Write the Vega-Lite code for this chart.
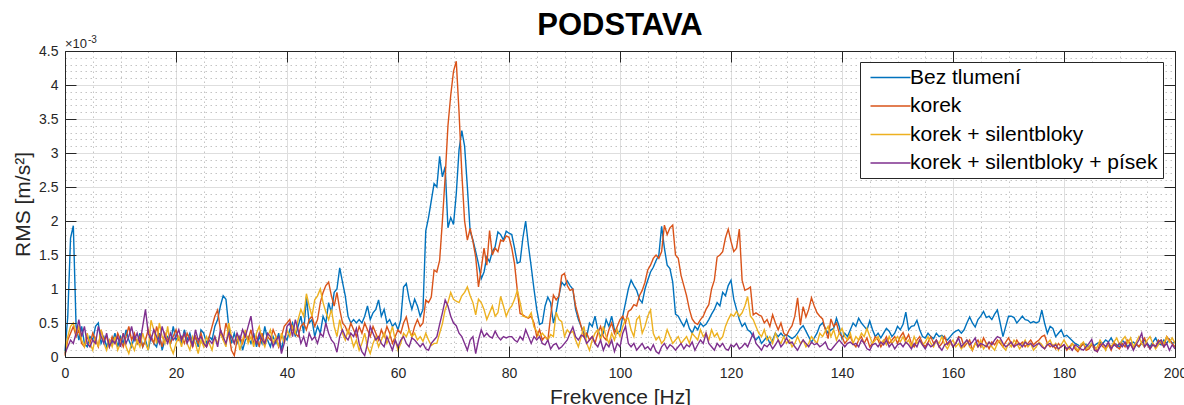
{
  "$schema": "https://vega.github.io/schema/vega-lite/v6.json",
  "width": 1110,
  "height": 306,
  "autosize": "none",
  "padding": {"left": 65, "top": 51, "right": 9, "bottom": 48},
  "background": "white",
  "title": {"text": "PODSTAVA", "fontSize": 31, "fontWeight": "bold", "color": "black", "anchor": "middle", "offset": -7},
  "config": {"view": {"stroke": null}, "font": "Liberation Sans"},
  "data": {"values": [
    {"f":0,"b":0.08,"k":0.02,"s":0.05,"p":0.05},
    {"f":0.5,"b":0.6,"k":0.25,"s":0.3,"p":0.15},
    {"f":1,"b":1.75,"k":0.35,"s":0.45,"p":0.25},
    {"f":1.5,"b":1.93,"k":0.45,"s":0.5,"p":0.2},
    {"f":2,"b":0.45,"k":0.3,"s":0.35,"p":0.35},
    {"f":2.5,"b":0.25,"k":0.4,"s":0.45,"p":0.55},
    {"f":3,"b":0.45,"k":0.2,"s":0.25,"p":0.3},
    {"f":3.5,"b":0.2,"k":0.15,"s":0.15,"p":0.45},
    {"f":4,"b":0.15,"k":0.3,"s":0.35,"p":0.2},
    {"f":4.5,"b":0.3,"k":0.2,"s":0.2,"p":0.15},
    {"f":5,"b":0.25,"k":0.35,"s":0.1,"p":0.25},
    {"f":5.5,"b":0.45,"k":0.25,"s":0.3,"p":0.2},
    {"f":6,"b":0.5,"k":0.15,"s":0.15,"p":0.45},
    {"f":6.5,"b":0.2,"k":0.4,"s":0.4,"p":0.3},
    {"f":7,"b":0.3,"k":0.25,"s":0.2,"p":0.2},
    {"f":7.5,"b":0.15,"k":0.3,"s":0.1,"p":0.35},
    {"f":8,"b":0.25,"k":0.15,"s":0.25,"p":0.15},
    {"f":8.5,"b":0.2,"k":0.3,"s":0.15,"p":0.25},
    {"f":9,"b":0.35,"k":0.2,"s":0.3,"p":0.2},
    {"f":9.5,"b":0.15,"k":0.35,"s":0.1,"p":0.3},
    {"f":10,"b":0.3,"k":0.25,"s":0.2,"p":0.15},
    {"f":10.5,"b":0.2,"k":0.15,"s":0.35,"p":0.35},
    {"f":11,"b":0.4,"k":0.3,"s":0.15,"p":0.2},
    {"f":11.5,"b":0.25,"k":0.45,"s":0.05,"p":0.3},
    {"f":12,"b":0.15,"k":0.25,"s":0.2,"p":0.45},
    {"f":12.5,"b":0.3,"k":0.35,"s":0.1,"p":0.25},
    {"f":13,"b":0.2,"k":0.2,"s":0.25,"p":0.35},
    {"f":13.5,"b":0.35,"k":0.3,"s":0.15,"p":0.2},
    {"f":14,"b":0.15,"k":0.15,"s":0.35,"p":0.45},
    {"f":14.5,"b":0.25,"k":0.25,"s":0.2,"p":0.7},
    {"f":15,"b":0.1,"k":0.4,"s":0.1,"p":0.35},
    {"f":15.5,"b":0.3,"k":0.3,"s":0.54,"p":0.25},
    {"f":16,"b":0.2,"k":0.2,"s":0.4,"p":0.4},
    {"f":16.5,"b":0.15,"k":0.45,"s":0.2,"p":0.3},
    {"f":17,"b":0.35,"k":0.3,"s":0.5,"p":0.2},
    {"f":17.5,"b":0.1,"k":0.15,"s":0.3,"p":0.45},
    {"f":18,"b":0.25,"k":0.35,"s":0.2,"p":0.3},
    {"f":18.5,"b":0.3,"k":0.25,"s":0.45,"p":0.2},
    {"f":19,"b":0.2,"k":0.2,"s":0.15,"p":0.35},
    {"f":19.5,"b":0.45,"k":0.3,"s":0.05,"p":0.25},
    {"f":20,"b":0.25,"k":0.4,"s":0.2,"p":0.3},
    {"f":20.5,"b":0.3,"k":0.25,"s":0.3,"p":0.4},
    {"f":21,"b":0.2,"k":0.3,"s":0.15,"p":0.25},
    {"f":21.5,"b":0.4,"k":0.2,"s":0.35,"p":0.35},
    {"f":22,"b":0.25,"k":0.35,"s":0.2,"p":0.2},
    {"f":22.5,"b":0.35,"k":0.25,"s":0.1,"p":0.3},
    {"f":23,"b":0.2,"k":0.15,"s":0.3,"p":0.15},
    {"f":23.5,"b":0.3,"k":0.3,"s":0.2,"p":0.4},
    {"f":24,"b":0.15,"k":0.2,"s":0.05,"p":0.25},
    {"f":24.5,"b":0.4,"k":0.35,"s":0.25,"p":0.3},
    {"f":25,"b":0.35,"k":0.2,"s":0.15,"p":0.2},
    {"f":25.5,"b":0.2,"k":0.15,"s":0.3,"p":0.15},
    {"f":26,"b":0.3,"k":0.3,"s":0.2,"p":0.25},
    {"f":26.5,"b":0.25,"k":0.45,"s":0.1,"p":0.2},
    {"f":27,"b":0.45,"k":0.6,"s":0.3,"p":0.3},
    {"f":27.5,"b":0.55,"k":0.69,"s":0.2,"p":0.15},
    {"f":28,"b":0.75,"k":0.4,"s":0.35,"p":0.4},
    {"f":28.5,"b":0.9,"k":0.25,"s":0.25,"p":0.3},
    {"f":29,"b":0.85,"k":0.5,"s":0.15,"p":0.2},
    {"f":29.5,"b":0.45,"k":0.35,"s":0.5,"p":0.35},
    {"f":30,"b":0.2,"k":0.1,"s":0.3,"p":0.3},
    {"f":30.5,"b":0.35,"k":0.02,"s":0.2,"p":0.2},
    {"f":31,"b":0.2,"k":0.25,"s":0.35,"p":0.35},
    {"f":31.5,"b":0.3,"k":0.3,"s":0.1,"p":0.25},
    {"f":32,"b":0.1,"k":0.2,"s":0.25,"p":0.4},
    {"f":32.5,"b":0.25,"k":0.35,"s":0.4,"p":0.3},
    {"f":33,"b":0.3,"k":0.25,"s":0.2,"p":0.45},
    {"f":33.5,"b":0.2,"k":0.4,"s":0.3,"p":0.6},
    {"f":34,"b":0.35,"k":0.2,"s":0.15,"p":0.3},
    {"f":34.5,"b":0.15,"k":0.3,"s":0.35,"p":0.2},
    {"f":35,"b":0.3,"k":0.15,"s":0.45,"p":0.35},
    {"f":35.5,"b":0.2,"k":0.35,"s":0.25,"p":0.25},
    {"f":36,"b":0.45,"k":0.2,"s":0.15,"p":0.2},
    {"f":36.5,"b":0.25,"k":0.3,"s":0.3,"p":0.35},
    {"f":37,"b":0.15,"k":0.25,"s":0.4,"p":0.3},
    {"f":37.5,"b":0.3,"k":0.4,"s":0.2,"p":0.15},
    {"f":38,"b":0.2,"k":0.3,"s":0.3,"p":0.25},
    {"f":38.5,"b":0.35,"k":0.15,"s":0.15,"p":0.3},
    {"f":39,"b":0.1,"k":0.3,"s":0.35,"p":0.05},
    {"f":39.5,"b":0.3,"k":0.45,"s":0.2,"p":0.2},
    {"f":40,"b":0.25,"k":0.5,"s":0.4,"p":0.45},
    {"f":40.5,"b":0.4,"k":0.55,"s":0.3,"p":0.5},
    {"f":41,"b":0.5,"k":0.4,"s":0.45,"p":0.3},
    {"f":41.5,"b":0.3,"k":0.35,"s":0.35,"p":0.55},
    {"f":42,"b":0.45,"k":0.3,"s":0.55,"p":0.4},
    {"f":42.5,"b":0.6,"k":0.45,"s":0.7,"p":0.2},
    {"f":43,"b":0.35,"k":0.5,"s":0.6,"p":0.3},
    {"f":43.5,"b":0.88,"k":0.4,"s":0.93,"p":0.15},
    {"f":44,"b":0.5,"k":0.55,"s":0.75,"p":0.35},
    {"f":44.5,"b":0.55,"k":0.6,"s":0.6,"p":0.25},
    {"f":45,"b":0.3,"k":0.45,"s":0.84,"p":0.3},
    {"f":45.5,"b":0.45,"k":0.55,"s":0.9,"p":0.2},
    {"f":46,"b":0.35,"k":0.8,"s":1.0,"p":0.35},
    {"f":46.5,"b":0.6,"k":0.95,"s":0.8,"p":0.3},
    {"f":47,"b":0.5,"k":1.05,"s":0.66,"p":0.5},
    {"f":47.5,"b":0.8,"k":1.1,"s":0.55,"p":0.35},
    {"f":48,"b":0.65,"k":0.9,"s":0.7,"p":0.25},
    {"f":48.5,"b":0.95,"k":0.75,"s":0.45,"p":0.2},
    {"f":49,"b":1.0,"k":0.95,"s":0.3,"p":0.07},
    {"f":49.5,"b":1.31,"k":0.7,"s":0.55,"p":0.3},
    {"f":50,"b":1.1,"k":0.5,"s":0.35,"p":0.4},
    {"f":50.5,"b":0.9,"k":0.45,"s":0.25,"p":0.3},
    {"f":51,"b":0.6,"k":0.35,"s":0.4,"p":0.25},
    {"f":51.5,"b":0.5,"k":0.5,"s":0.3,"p":0.35},
    {"f":52,"b":0.55,"k":0.4,"s":0.15,"p":0.3},
    {"f":52.5,"b":0.5,"k":0.3,"s":0.25,"p":0.42},
    {"f":53,"b":0.55,"k":0.45,"s":0.1,"p":0.2},
    {"f":53.5,"b":0.5,"k":0.35,"s":0.2,"p":0.08},
    {"f":54,"b":0.6,"k":0.5,"s":0.35,"p":0.02},
    {"f":54.5,"b":0.75,"k":0.4,"s":0.15,"p":0.2},
    {"f":55,"b":0.55,"k":0.3,"s":0.05,"p":0.45},
    {"f":55.5,"b":0.65,"k":0.45,"s":0.2,"p":0.35},
    {"f":56,"b":0.7,"k":0.35,"s":0.3,"p":0.25},
    {"f":56.5,"b":0.84,"k":0.25,"s":0.15,"p":0.3},
    {"f":57,"b":0.6,"k":0.4,"s":0.25,"p":0.2},
    {"f":57.5,"b":0.7,"k":0.3,"s":0.35,"p":0.15},
    {"f":58,"b":0.5,"k":0.45,"s":0.2,"p":0.3},
    {"f":58.5,"b":0.55,"k":0.35,"s":0.3,"p":0.2},
    {"f":59,"b":0.45,"k":0.2,"s":0.45,"p":0.1},
    {"f":59.5,"b":0.5,"k":0.3,"s":0.25,"p":0.25},
    {"f":60,"b":0.4,"k":0.4,"s":0.1,"p":0.15},
    {"f":60.5,"b":0.55,"k":0.35,"s":0.2,"p":0.25},
    {"f":61,"b":1.03,"k":0.5,"s":0.35,"p":0.3},
    {"f":61.5,"b":1.08,"k":0.59,"s":0.3,"p":0.2},
    {"f":62,"b":0.85,"k":0.4,"s":0.4,"p":0.15},
    {"f":62.5,"b":0.7,"k":0.3,"s":0.3,"p":0.28},
    {"f":63,"b":0.85,"k":0.45,"s":0.35,"p":0.25},
    {"f":63.5,"b":0.75,"k":0.55,"s":0.25,"p":0.2},
    {"f":64,"b":0.6,"k":0.45,"s":0.3,"p":0.15},
    {"f":64.5,"b":0.7,"k":0.5,"s":0.23,"p":0.2},
    {"f":65,"b":1.85,"k":0.84,"s":0.35,"p":0.12},
    {"f":65.5,"b":2.05,"k":0.8,"s":0.25,"p":0.1},
    {"f":66,"b":2.3,"k":0.88,"s":0.17,"p":0.2},
    {"f":66.5,"b":2.55,"k":1.28,"s":0.2,"p":0.25},
    {"f":67,"b":2.5,"k":1.25,"s":0.2,"p":0.3},
    {"f":67.5,"b":2.95,"k":1.42,"s":0.35,"p":0.48},
    {"f":68,"b":2.65,"k":2.0,"s":0.49,"p":0.65},
    {"f":68.5,"b":2.8,"k":2.65,"s":0.7,"p":0.84},
    {"f":69,"b":1.9,"k":3.4,"s":0.8,"p":0.75},
    {"f":69.5,"b":2.05,"k":3.85,"s":0.95,"p":0.6},
    {"f":70,"b":1.95,"k":4.2,"s":0.85,"p":0.5},
    {"f":70.5,"b":2.4,"k":4.35,"s":0.82,"p":0.46},
    {"f":71,"b":3.05,"k":3.6,"s":0.8,"p":0.35},
    {"f":71.5,"b":3.33,"k":2.7,"s":0.9,"p":0.3},
    {"f":72,"b":3.1,"k":2.0,"s":0.95,"p":0.2},
    {"f":72.5,"b":2.5,"k":1.72,"s":1.03,"p":0.1},
    {"f":73,"b":1.85,"k":1.89,"s":0.9,"p":0.25},
    {"f":73.5,"b":1.72,"k":1.7,"s":0.8,"p":0.3},
    {"f":74,"b":1.55,"k":1.47,"s":0.62,"p":0.05},
    {"f":74.5,"b":1.37,"k":1.03,"s":0.85,"p":0.25},
    {"f":75,"b":1.15,"k":1.3,"s":0.8,"p":0.4},
    {"f":75.5,"b":1.25,"k":1.6,"s":0.7,"p":0.3},
    {"f":76,"b":1.47,"k":1.35,"s":0.55,"p":0.35},
    {"f":76.5,"b":1.4,"k":1.86,"s":0.65,"p":0.3},
    {"f":77,"b":1.55,"k":1.5,"s":0.75,"p":0.28},
    {"f":77.5,"b":1.62,"k":1.6,"s":0.6,"p":0.38},
    {"f":78,"b":1.84,"k":1.55,"s":0.65,"p":0.3},
    {"f":78.5,"b":1.8,"k":1.72,"s":0.89,"p":0.25},
    {"f":79,"b":1.72,"k":1.7,"s":0.75,"p":0.3},
    {"f":79.5,"b":1.85,"k":1.78,"s":0.6,"p":0.28},
    {"f":80,"b":1.82,"k":1.76,"s":0.7,"p":0.3},
    {"f":80.5,"b":1.8,"k":1.6,"s":0.75,"p":0.3},
    {"f":81,"b":1.6,"k":1.37,"s":0.85,"p":0.25},
    {"f":81.5,"b":1.38,"k":0.98,"s":0.98,"p":0.22},
    {"f":82,"b":1.4,"k":0.64,"s":0.8,"p":0.3},
    {"f":82.5,"b":1.75,"k":0.62,"s":0.6,"p":0.25},
    {"f":83,"b":2.0,"k":0.59,"s":0.59,"p":0.4},
    {"f":83.5,"b":1.64,"k":0.57,"s":0.58,"p":0.3},
    {"f":84,"b":1.33,"k":0.6,"s":0.65,"p":0.2},
    {"f":84.5,"b":1.0,"k":0.5,"s":0.44,"p":0.3},
    {"f":85,"b":0.7,"k":0.3,"s":0.38,"p":0.25},
    {"f":85.5,"b":0.48,"k":0.4,"s":0.3,"p":0.3},
    {"f":86,"b":0.5,"k":0.25,"s":0.35,"p":0.2},
    {"f":86.5,"b":0.75,"k":0.3,"s":0.3,"p":0.18},
    {"f":87,"b":0.88,"k":0.25,"s":0.25,"p":0.25},
    {"f":87.5,"b":0.8,"k":0.6,"s":0.33,"p":0.12},
    {"f":88,"b":0.5,"k":0.91,"s":0.3,"p":0.18},
    {"f":88.5,"b":0.66,"k":0.84,"s":0.66,"p":0.2},
    {"f":89,"b":0.9,"k":0.9,"s":0.55,"p":0.12},
    {"f":89.5,"b":1.1,"k":1.2,"s":0.52,"p":0.15},
    {"f":90,"b":1.05,"k":1.23,"s":0.3,"p":0.2},
    {"f":90.5,"b":1.12,"k":1.05,"s":0.4,"p":0.25},
    {"f":91,"b":1.05,"k":0.98,"s":0.35,"p":0.35},
    {"f":91.5,"b":1.0,"k":1.0,"s":0.38,"p":0.44},
    {"f":92,"b":0.7,"k":0.75,"s":0.25,"p":0.3},
    {"f":92.5,"b":0.55,"k":0.6,"s":0.15,"p":0.25},
    {"f":93,"b":0.45,"k":0.45,"s":0.3,"p":0.32},
    {"f":93.5,"b":0.35,"k":0.3,"s":0.45,"p":0.3},
    {"f":94,"b":0.3,"k":0.35,"s":0.2,"p":0.2},
    {"f":94.5,"b":0.5,"k":0.25,"s":0.1,"p":0.25},
    {"f":95,"b":0.45,"k":0.3,"s":0.25,"p":0.3},
    {"f":95.5,"b":0.6,"k":0.2,"s":0.35,"p":0.2},
    {"f":96,"b":0.4,"k":0.35,"s":0.4,"p":0.15},
    {"f":96.5,"b":0.3,"k":0.45,"s":0.25,"p":0.25},
    {"f":97,"b":0.35,"k":0.3,"s":0.45,"p":0.1},
    {"f":97.5,"b":0.55,"k":0.25,"s":0.3,"p":0.2},
    {"f":98,"b":0.45,"k":0.4,"s":0.2,"p":0.15},
    {"f":98.5,"b":0.6,"k":0.5,"s":0.35,"p":0.25},
    {"f":99,"b":0.4,"k":0.35,"s":0.25,"p":0.08},
    {"f":99.5,"b":0.35,"k":0.45,"s":0.4,"p":0.2},
    {"f":100,"b":0.38,"k":0.55,"s":0.3,"p":0.15},
    {"f":100.5,"b":0.6,"k":0.6,"s":0.45,"p":0.35},
    {"f":101,"b":0.8,"k":0.5,"s":0.55,"p":0.45},
    {"f":101.5,"b":1.0,"k":0.67,"s":0.57,"p":0.2},
    {"f":102,"b":1.13,"k":0.7,"s":0.4,"p":0.15},
    {"f":102.5,"b":1.05,"k":0.77,"s":0.3,"p":0.2},
    {"f":103,"b":0.98,"k":0.75,"s":0.55,"p":0.1},
    {"f":103.5,"b":0.85,"k":0.9,"s":0.6,"p":0.15},
    {"f":104,"b":0.8,"k":0.98,"s":0.35,"p":0.2},
    {"f":104.5,"b":1.0,"k":1.1,"s":0.45,"p":0.12},
    {"f":105,"b":1.13,"k":1.28,"s":0.6,"p":0.15},
    {"f":105.5,"b":1.25,"k":1.35,"s":0.69,"p":0.1},
    {"f":106,"b":1.32,"k":1.45,"s":0.35,"p":0.18},
    {"f":106.5,"b":1.42,"k":1.5,"s":0.25,"p":0.08},
    {"f":107,"b":1.5,"k":1.45,"s":0.3,"p":0.05},
    {"f":107.5,"b":1.92,"k":1.55,"s":0.2,"p":0.15},
    {"f":108,"b":1.6,"k":1.94,"s":0.25,"p":0.2},
    {"f":108.5,"b":1.35,"k":1.8,"s":0.4,"p":0.12},
    {"f":109,"b":1.3,"k":1.9,"s":0.3,"p":0.18},
    {"f":109.5,"b":1.1,"k":1.94,"s":0.2,"p":0.15},
    {"f":110,"b":0.63,"k":1.5,"s":0.25,"p":0.1},
    {"f":110.5,"b":0.6,"k":1.45,"s":0.3,"p":0.15},
    {"f":111,"b":0.52,"k":1.2,"s":0.2,"p":0.2},
    {"f":111.5,"b":0.45,"k":1.05,"s":0.25,"p":0.12},
    {"f":112,"b":0.55,"k":0.9,"s":0.3,"p":0.18},
    {"f":112.5,"b":0.42,"k":0.7,"s":0.2,"p":0.15},
    {"f":113,"b":0.35,"k":0.56,"s":0.35,"p":0.22},
    {"f":113.5,"b":0.45,"k":0.5,"s":0.3,"p":0.1},
    {"f":114,"b":0.4,"k":0.48,"s":0.25,"p":0.18},
    {"f":114.5,"b":0.5,"k":0.55,"s":0.4,"p":0.25},
    {"f":115,"b":0.45,"k":0.6,"s":0.3,"p":0.2},
    {"f":115.5,"b":0.48,"k":0.7,"s":0.35,"p":0.35},
    {"f":116,"b":0.55,"k":0.77,"s":0.25,"p":0.2},
    {"f":116.5,"b":0.63,"k":1.0,"s":0.4,"p":0.15},
    {"f":117,"b":0.7,"k":1.13,"s":0.3,"p":0.1},
    {"f":117.5,"b":0.8,"k":1.47,"s":0.35,"p":0.2},
    {"f":118,"b":0.75,"k":1.5,"s":0.25,"p":0.15},
    {"f":118.5,"b":0.95,"k":1.55,"s":0.3,"p":0.2},
    {"f":119,"b":0.9,"k":1.75,"s":0.45,"p":0.12},
    {"f":119.5,"b":1.05,"k":1.88,"s":0.55,"p":0.1},
    {"f":120,"b":1.13,"k":1.7,"s":0.63,"p":0.18},
    {"f":120.5,"b":0.85,"k":1.55,"s":0.6,"p":0.15},
    {"f":121,"b":0.7,"k":1.6,"s":0.67,"p":0.2},
    {"f":121.5,"b":0.55,"k":1.88,"s":0.6,"p":0.12},
    {"f":122,"b":0.45,"k":1.13,"s":0.65,"p":0.15},
    {"f":122.5,"b":0.5,"k":0.98,"s":0.75,"p":0.2},
    {"f":123,"b":0.4,"k":1.0,"s":0.89,"p":0.15},
    {"f":123.5,"b":0.37,"k":1.03,"s":0.6,"p":0.25},
    {"f":124,"b":0.3,"k":0.62,"s":0.55,"p":0.35},
    {"f":124.5,"b":0.25,"k":0.65,"s":0.45,"p":0.2},
    {"f":125,"b":0.3,"k":0.62,"s":0.35,"p":0.15},
    {"f":125.5,"b":0.2,"k":0.6,"s":0.3,"p":0.1},
    {"f":126,"b":0.25,"k":0.5,"s":0.4,"p":0.18},
    {"f":126.5,"b":0.3,"k":0.55,"s":0.25,"p":0.15},
    {"f":127,"b":0.2,"k":0.45,"s":0.3,"p":0.2},
    {"f":127.5,"b":0.25,"k":0.62,"s":0.2,"p":0.12},
    {"f":128,"b":0.35,"k":0.5,"s":0.35,"p":0.18},
    {"f":128.5,"b":0.3,"k":0.4,"s":0.25,"p":0.25},
    {"f":129,"b":0.35,"k":0.5,"s":0.2,"p":0.15},
    {"f":129.5,"b":0.3,"k":0.35,"s":0.3,"p":0.2},
    {"f":130,"b":0.33,"k":0.31,"s":0.2,"p":0.28},
    {"f":130.5,"b":0.3,"k":0.4,"s":0.25,"p":0.2},
    {"f":131,"b":0.27,"k":0.46,"s":0.15,"p":0.22},
    {"f":131.5,"b":0.3,"k":0.6,"s":0.2,"p":0.15},
    {"f":132,"b":0.35,"k":0.87,"s":0.3,"p":0.1},
    {"f":132.5,"b":0.42,"k":0.47,"s":0.2,"p":0.18},
    {"f":133,"b":0.46,"k":0.74,"s":0.25,"p":0.25},
    {"f":133.5,"b":0.38,"k":0.59,"s":0.15,"p":0.2},
    {"f":134,"b":0.3,"k":0.7,"s":0.2,"p":0.15},
    {"f":134.5,"b":0.22,"k":0.87,"s":0.3,"p":0.22},
    {"f":135,"b":0.28,"k":0.75,"s":0.25,"p":0.18},
    {"f":135.5,"b":0.35,"k":0.65,"s":0.2,"p":0.2},
    {"f":136,"b":0.46,"k":0.6,"s":0.35,"p":0.15},
    {"f":136.5,"b":0.5,"k":0.56,"s":0.3,"p":0.18},
    {"f":137,"b":0.42,"k":0.4,"s":0.38,"p":0.22},
    {"f":137.5,"b":0.35,"k":0.27,"s":0.45,"p":0.12},
    {"f":138,"b":0.4,"k":0.56,"s":0.3,"p":0.1},
    {"f":138.5,"b":0.42,"k":0.45,"s":0.4,"p":0.15},
    {"f":139,"b":0.57,"k":0.5,"s":0.25,"p":0.2},
    {"f":139.5,"b":0.45,"k":0.35,"s":0.35,"p":0.25},
    {"f":140,"b":0.27,"k":0.3,"s":0.42,"p":0.2},
    {"f":140.5,"b":0.35,"k":0.2,"s":0.3,"p":0.15},
    {"f":141,"b":0.3,"k":0.25,"s":0.25,"p":0.2},
    {"f":141.5,"b":0.4,"k":0.3,"s":0.35,"p":0.22},
    {"f":142,"b":0.5,"k":0.2,"s":0.2,"p":0.18},
    {"f":142.5,"b":0.45,"k":0.15,"s":0.3,"p":0.2},
    {"f":143,"b":0.57,"k":0.25,"s":0.25,"p":0.15},
    {"f":143.5,"b":0.5,"k":0.3,"s":0.35,"p":0.25},
    {"f":144,"b":0.45,"k":0.2,"s":0.3,"p":0.2},
    {"f":144.5,"b":0.4,"k":0.28,"s":0.42,"p":0.12},
    {"f":145,"b":0.53,"k":0.15,"s":0.3,"p":0.1},
    {"f":145.5,"b":0.4,"k":0.2,"s":0.2,"p":0.18},
    {"f":146,"b":0.3,"k":0.3,"s":0.25,"p":0.2},
    {"f":146.5,"b":0.35,"k":0.25,"s":0.3,"p":0.15},
    {"f":147,"b":0.28,"k":0.15,"s":0.2,"p":0.22},
    {"f":147.5,"b":0.35,"k":0.22,"s":0.25,"p":0.18},
    {"f":148,"b":0.42,"k":0.3,"s":0.18,"p":0.25},
    {"f":148.5,"b":0.38,"k":0.2,"s":0.3,"p":0.15},
    {"f":149,"b":0.3,"k":0.25,"s":0.2,"p":0.2},
    {"f":149.5,"b":0.35,"k":0.3,"s":0.25,"p":0.12},
    {"f":150,"b":0.45,"k":0.2,"s":0.3,"p":0.18},
    {"f":150.5,"b":0.4,"k":0.3,"s":0.22,"p":0.2},
    {"f":151,"b":0.48,"k":0.36,"s":0.3,"p":0.15},
    {"f":151.5,"b":0.66,"k":0.25,"s":0.2,"p":0.22},
    {"f":152,"b":0.4,"k":0.33,"s":0.25,"p":0.18},
    {"f":152.5,"b":0.45,"k":0.2,"s":0.15,"p":0.12},
    {"f":153,"b":0.46,"k":0.15,"s":0.3,"p":0.2},
    {"f":153.5,"b":0.54,"k":0.25,"s":0.2,"p":0.15},
    {"f":154,"b":0.4,"k":0.3,"s":0.25,"p":0.25},
    {"f":154.5,"b":0.3,"k":0.2,"s":0.18,"p":0.18},
    {"f":155,"b":0.28,"k":0.15,"s":0.22,"p":0.12},
    {"f":155.5,"b":0.35,"k":0.22,"s":0.3,"p":0.2},
    {"f":156,"b":0.3,"k":0.3,"s":0.2,"p":0.15},
    {"f":156.5,"b":0.27,"k":0.2,"s":0.15,"p":0.18},
    {"f":157,"b":0.35,"k":0.25,"s":0.25,"p":0.25},
    {"f":157.5,"b":0.3,"k":0.15,"s":0.2,"p":0.15},
    {"f":158,"b":0.32,"k":0.2,"s":0.3,"p":0.1},
    {"f":158.5,"b":0.28,"k":0.3,"s":0.18,"p":0.18},
    {"f":159,"b":0.25,"k":0.18,"s":0.12,"p":0.2},
    {"f":159.5,"b":0.3,"k":0.22,"s":0.2,"p":0.25},
    {"f":160,"b":0.35,"k":0.15,"s":0.25,"p":0.15},
    {"f":160.5,"b":0.38,"k":0.2,"s":0.15,"p":0.2},
    {"f":161,"b":0.4,"k":0.3,"s":0.2,"p":0.28},
    {"f":161.5,"b":0.35,"k":0.28,"s":0.12,"p":0.15},
    {"f":162,"b":0.4,"k":0.15,"s":0.18,"p":0.2},
    {"f":162.5,"b":0.5,"k":0.2,"s":0.25,"p":0.25},
    {"f":163,"b":0.59,"k":0.25,"s":0.15,"p":0.18},
    {"f":163.5,"b":0.5,"k":0.1,"s":0.1,"p":0.22},
    {"f":164,"b":0.44,"k":0.2,"s":0.2,"p":0.28},
    {"f":164.5,"b":0.55,"k":0.25,"s":0.15,"p":0.15},
    {"f":165,"b":0.6,"k":0.15,"s":0.25,"p":0.2},
    {"f":165.5,"b":0.67,"k":0.28,"s":0.12,"p":0.18},
    {"f":166,"b":0.58,"k":0.2,"s":0.18,"p":0.15},
    {"f":166.5,"b":0.6,"k":0.12,"s":0.22,"p":0.22},
    {"f":167,"b":0.55,"k":0.22,"s":0.15,"p":0.18},
    {"f":167.5,"b":0.63,"k":0.18,"s":0.1,"p":0.25},
    {"f":168,"b":0.69,"k":0.25,"s":0.2,"p":0.3},
    {"f":168.5,"b":0.5,"k":0.2,"s":0.25,"p":0.28},
    {"f":169,"b":0.3,"k":0.15,"s":0.15,"p":0.2},
    {"f":169.5,"b":0.45,"k":0.22,"s":0.1,"p":0.15},
    {"f":170,"b":0.6,"k":0.28,"s":0.2,"p":0.18},
    {"f":170.5,"b":0.6,"k":0.2,"s":0.15,"p":0.22},
    {"f":171,"b":0.58,"k":0.15,"s":0.25,"p":0.15},
    {"f":171.5,"b":0.5,"k":0.25,"s":0.2,"p":0.18},
    {"f":172,"b":0.55,"k":0.18,"s":0.12,"p":0.2},
    {"f":172.5,"b":0.6,"k":0.22,"s":0.18,"p":0.15},
    {"f":173,"b":0.55,"k":0.15,"s":0.25,"p":0.22},
    {"f":173.5,"b":0.54,"k":0.2,"s":0.15,"p":0.18},
    {"f":174,"b":0.5,"k":0.25,"s":0.2,"p":0.2},
    {"f":174.5,"b":0.52,"k":0.18,"s":0.1,"p":0.15},
    {"f":175,"b":0.5,"k":0.22,"s":0.15,"p":0.18},
    {"f":175.5,"b":0.52,"k":0.25,"s":0.22,"p":0.2},
    {"f":176,"b":0.69,"k":0.3,"s":0.18,"p":0.15},
    {"f":176.5,"b":0.5,"k":0.32,"s":0.12,"p":0.12},
    {"f":177,"b":0.35,"k":0.2,"s":0.2,"p":0.18},
    {"f":177.5,"b":0.45,"k":0.15,"s":0.25,"p":0.2},
    {"f":178,"b":0.42,"k":0.18,"s":0.15,"p":0.15},
    {"f":178.5,"b":0.3,"k":0.12,"s":0.2,"p":0.18},
    {"f":179,"b":0.35,"k":0.2,"s":0.1,"p":0.12},
    {"f":179.5,"b":0.4,"k":0.15,"s":0.18,"p":0.15},
    {"f":180,"b":0.3,"k":0.18,"s":0.25,"p":0.18},
    {"f":180.5,"b":0.32,"k":0.1,"s":0.18,"p":0.12},
    {"f":181,"b":0.28,"k":0.15,"s":0.12,"p":0.15},
    {"f":181.5,"b":0.24,"k":0.2,"s":0.2,"p":0.1},
    {"f":182,"b":0.2,"k":0.12,"s":0.15,"p":0.18},
    {"f":182.5,"b":0.18,"k":0.08,"s":0.1,"p":0.15},
    {"f":183,"b":0.15,"k":0.15,"s":0.18,"p":0.12},
    {"f":183.5,"b":0.2,"k":0.2,"s":0.22,"p":0.1},
    {"f":184,"b":0.18,"k":0.1,"s":0.12,"p":0.15},
    {"f":184.5,"b":0.15,"k":0.12,"s":0.15,"p":0.2},
    {"f":185,"b":0.2,"k":0.18,"s":0.2,"p":0.26},
    {"f":185.5,"b":0.17,"k":0.15,"s":0.1,"p":0.1},
    {"f":186,"b":0.2,"k":0.08,"s":0.15,"p":0.08},
    {"f":186.5,"b":0.22,"k":0.2,"s":0.25,"p":0.15},
    {"f":187,"b":0.2,"k":0.15,"s":0.18,"p":0.2},
    {"f":187.5,"b":0.25,"k":0.12,"s":0.1,"p":0.15},
    {"f":188,"b":0.22,"k":0.18,"s":0.2,"p":0.22},
    {"f":188.5,"b":0.28,"k":0.1,"s":0.15,"p":0.12},
    {"f":189,"b":0.2,"k":0.22,"s":0.22,"p":0.18},
    {"f":189.5,"b":0.18,"k":0.15,"s":0.28,"p":0.15},
    {"f":190,"b":0.15,"k":0.12,"s":0.18,"p":0.2},
    {"f":190.5,"b":0.25,"k":0.2,"s":0.25,"p":0.15},
    {"f":191,"b":0.2,"k":0.15,"s":0.3,"p":0.22},
    {"f":191.5,"b":0.15,"k":0.25,"s":0.2,"p":0.12},
    {"f":192,"b":0.2,"k":0.18,"s":0.28,"p":0.2},
    {"f":192.5,"b":0.22,"k":0.12,"s":0.15,"p":0.1},
    {"f":193,"b":0.18,"k":0.2,"s":0.22,"p":0.18},
    {"f":193.5,"b":0.15,"k":0.15,"s":0.3,"p":0.25},
    {"f":194,"b":0.2,"k":0.22,"s":0.2,"p":0.35},
    {"f":194.5,"b":0.25,"k":0.28,"s":0.15,"p":0.15},
    {"f":195,"b":0.2,"k":0.18,"s":0.25,"p":0.2},
    {"f":195.5,"b":0.15,"k":0.12,"s":0.3,"p":0.12},
    {"f":196,"b":0.22,"k":0.2,"s":0.2,"p":0.18},
    {"f":196.5,"b":0.28,"k":0.15,"s":0.12,"p":0.15},
    {"f":197,"b":0.2,"k":0.25,"s":0.18,"p":0.22},
    {"f":197.5,"b":0.18,"k":0.2,"s":0.25,"p":0.25},
    {"f":198,"b":0.25,"k":0.15,"s":0.2,"p":0.15},
    {"f":198.5,"b":0.2,"k":0.3,"s":0.3,"p":0.2},
    {"f":199,"b":0.26,"k":0.25,"s":0.22,"p":0.1},
    {"f":199.5,"b":0.2,"k":0.2,"s":0.28,"p":0.18},
    {"f":200,"b":0.22,"k":0.15,"s":0.2,"p":0.12}
  ]},
  "layer": [
    {
      "data": {"values": [{}]},
      "mark": {"type": "point", "opacity": 0},
      "encoding": {
        "x": {"datum": 0, "type": "quantitative", "scale": {"domain": [0, 200], "nice": false},
          "axis": {"orient": "bottom", "values": [5,10,15,25,30,35,45,50,55,65,70,75,85,90,95,105,110,115,125,130,135,145,150,155,165,170,175,185,190,195],
            "grid": true, "gridColor": "#c4c4c4", "gridDash": [1.5, 3.5], "gridWidth": 1, "ticks": false, "labels": false, "domain": false, "title": null, "zindex": 0}},
        "y": {"datum": 0, "type": "quantitative", "scale": {"domain": [0, 4.5], "nice": false},
          "axis": {"orient": "left", "values": [0.1,0.2,0.3,0.4,0.6,0.7,0.8,0.9,1.1,1.2,1.3,1.4,1.6,1.7,1.8,1.9,2.1,2.2,2.3,2.4,2.6,2.7,2.8,2.9,3.1,3.2,3.3,3.4,3.6,3.7,3.8,3.9,4.1,4.2,4.3,4.4],
            "grid": true, "gridColor": "#c4c4c4", "gridDash": [1.5, 3.5], "gridWidth": 1, "ticks": false, "labels": false, "domain": false, "title": null, "zindex": 0}}
      }
    },
    {
      "data": {"values": [{}]},
      "mark": {"type": "point", "opacity": 0},
      "encoding": {
        "x": {"datum": 0, "type": "quantitative", "scale": {"domain": [0, 200], "nice": false},
          "axis": {"orient": "bottom", "values": [20,40,60,80,100,120,140,160,180],
            "grid": true, "gridColor": "#dedede", "gridWidth": 1, "ticks": false, "labels": false, "domain": false, "title": null, "zindex": 0}},
        "y": {"datum": 0, "type": "quantitative", "scale": {"domain": [0, 4.5], "nice": false},
          "axis": {"orient": "left", "values": [0.5,1,1.5,2,2.5,3,3.5,4],
            "grid": true, "gridColor": "#dedede", "gridWidth": 1, "ticks": false, "labels": false, "domain": false, "title": null, "zindex": 0}}
      }
    },
    {
      "mark": {"type": "line", "strokeWidth": 1.4},
      "encoding": {
        "x": {"field": "f", "type": "quantitative", "scale": {"domain": [0, 200], "nice": false}, "axis": null},
        "y": {"field": "b", "type": "quantitative", "scale": {"domain": [0, 4.5], "nice": false}, "axis": null},
        "color": {"datum": "Bez tlumení", "type": "nominal",
          "scale": {"domain": ["Bez tlumení", "korek", "korek + silentbloky", "korek + silentbloky + písek"],
                    "range": ["#0072BD", "#D95319", "#EDB120", "#7E2F8E"]},
          "legend": {"orient": "none", "legendX": 795, "legendY": 11, "title": null, "direction": "vertical",
            "symbolType": "M-1,0H7", "symbolSize": 100, "symbolStrokeWidth": 1.5,
            "labelFontSize": 21, "labelColor": "black", "labelOffset": 24, "labelLimit": 400,
            "rowPadding": 6.5, "padding": 5, "fillColor": "white", "strokeColor": "#262626"}}
      }
    },
    {
      "mark": {"type": "line", "strokeWidth": 1.4},
      "encoding": {
        "x": {"field": "f", "type": "quantitative", "scale": {"domain": [0, 200], "nice": false}, "axis": null},
        "y": {"field": "k", "type": "quantitative", "scale": {"domain": [0, 4.5], "nice": false}, "axis": null},
        "color": {"datum": "korek", "type": "nominal"}
      }
    },
    {
      "mark": {"type": "line", "strokeWidth": 1.4},
      "encoding": {
        "x": {"field": "f", "type": "quantitative", "scale": {"domain": [0, 200], "nice": false}, "axis": null},
        "y": {"field": "s", "type": "quantitative", "scale": {"domain": [0, 4.5], "nice": false}, "axis": null},
        "color": {"datum": "korek + silentbloky", "type": "nominal"}
      }
    },
    {
      "mark": {"type": "line", "strokeWidth": 1.4},
      "encoding": {
        "x": {"field": "f", "type": "quantitative", "scale": {"domain": [0, 200], "nice": false}, "axis": null},
        "y": {"field": "p", "type": "quantitative", "scale": {"domain": [0, 4.5], "nice": false}, "axis": null},
        "color": {"datum": "korek + silentbloky + písek", "type": "nominal"}
      }
    },
    {
      "data": {"values": [{}]},
      "mark": {"type": "point", "opacity": 0},
      "encoding": {
        "x": {"datum": 0, "type": "quantitative", "scale": {"domain": [0, 200], "nice": false},
          "axis": {"orient": "bottom", "values": [0,20,40,60,80,100,120,140,160,180,200], "grid": false,
            "ticks": true, "tickSize": -11, "tickColor": "#262626", "tickWidth": 1,
            "domain": true, "domainColor": "#262626", "domainWidth": 1,
            "labels": true, "labelPadding": 20, "labelFontSize": 14, "labelColor": "#262626", "labelFlush": false,
            "title": "Frekvence [Hz]", "titleFontSize": 21, "titleFontWeight": "normal", "titleColor": "#262626", "titlePadding": 6, "zindex": 1}},
        "y": {"datum": 0, "type": "quantitative", "scale": {"domain": [0, 4.5], "nice": false},
          "axis": {"orient": "left", "values": [0,0.5,1,1.5,2,2.5,3,3.5,4,4.5], "format": "~g", "grid": false,
            "ticks": true, "tickSize": -11, "tickColor": "#262626", "tickWidth": 1,
            "domain": true, "domainColor": "#262626", "domainWidth": 1,
            "labels": true, "labelPadding": 18, "labelFontSize": 14, "labelColor": "#262626", "labelFlush": false,
            "title": "RMS [m/s²]", "titleFontSize": 21, "titleFontWeight": "normal", "titleColor": "#262626", "titlePadding": 5, "zindex": 1}}
      }
    },
    {
      "data": {"values": [{}]},
      "mark": {"type": "point", "opacity": 0},
      "encoding": {
        "x": {"datum": 0, "type": "quantitative", "scale": {"domain": [0, 200], "nice": false},
          "axis": {"orient": "top", "values": [0,20,40,60,80,100,120,140,160,180,200], "grid": false,
            "ticks": true, "tickSize": -11, "tickColor": "#262626", "tickWidth": 1,
            "domain": true, "domainColor": "#262626", "domainWidth": 1, "labels": false, "title": null, "zindex": 1}},
        "y": {"datum": 0, "type": "quantitative", "scale": {"domain": [0, 4.5], "nice": false},
          "axis": {"orient": "right", "values": [0,0.5,1,1.5,2,2.5,3,3.5,4,4.5], "grid": false,
            "ticks": true, "tickSize": -11, "tickColor": "#262626", "tickWidth": 1,
            "domain": true, "domainColor": "#262626", "domainWidth": 1, "labels": false, "title": null, "zindex": 1}}
      }
    },
    {
      "data": {"values": [{}]},
      "mark": {"type": "text", "align": "left", "baseline": "alphabetic", "dy": -3, "fontSize": 13, "color": "#262626"},
      "encoding": {
        "x": {"datum": 0, "type": "quantitative", "scale": {"domain": [0, 200], "nice": false}, "axis": null},
        "y": {"datum": 4.5, "type": "quantitative", "scale": {"domain": [0, 4.5], "nice": false}, "axis": null},
        "text": {"value": "×10"}
      }
    },
    {
      "data": {"values": [{}]},
      "mark": {"type": "text", "align": "left", "baseline": "alphabetic", "dx": 23, "dy": -8, "fontSize": 10, "color": "#262626"},
      "encoding": {
        "x": {"datum": 0, "type": "quantitative", "scale": {"domain": [0, 200], "nice": false}, "axis": null},
        "y": {"datum": 4.5, "type": "quantitative", "scale": {"domain": [0, 4.5], "nice": false}, "axis": null},
        "text": {"value": "-3"}
      }
    }
  ],
  "resolve": {"axis": {"x": "independent", "y": "independent"}}
}
